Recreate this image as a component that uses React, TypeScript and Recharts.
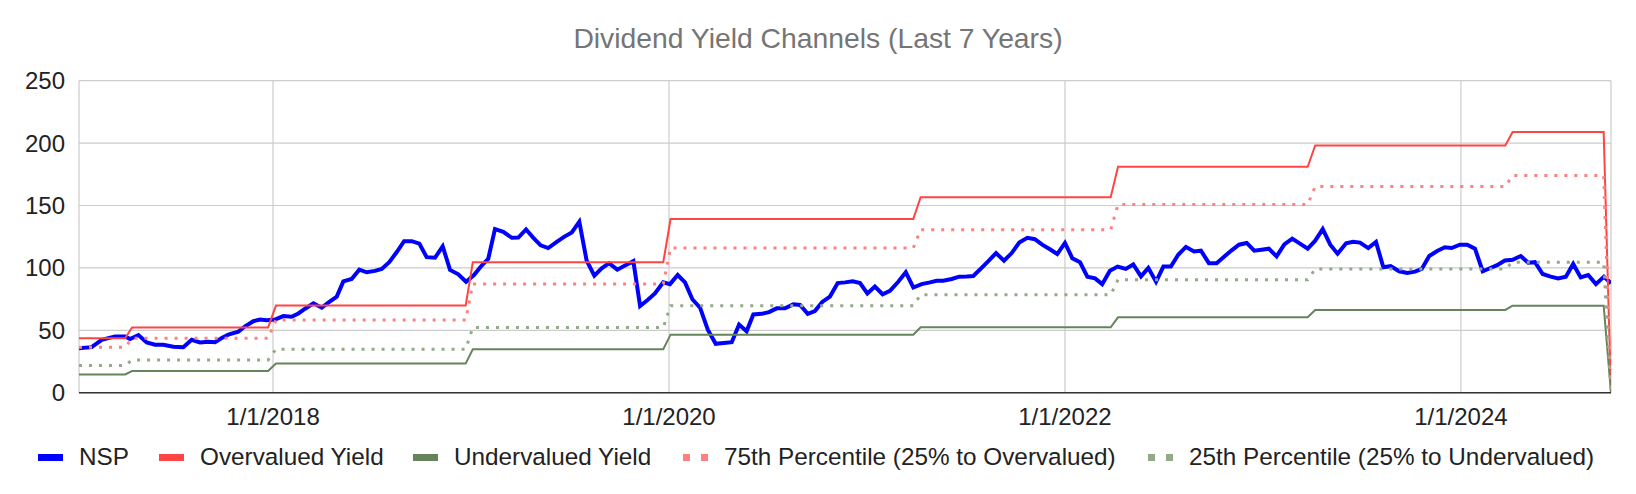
import { CartesianGrid, Line, LineChart, XAxis, YAxis } from 'recharts';

const W = 1636;
const H = 494;
const FONT = '"Liberation Sans", Arial, sans-serif';

// x values are decimal years
const xStart = 2017.02;
const xEnd = 2024.758;
const xTicks = [2018, 2020, 2022, 2024];
const yTicks = [0, 50, 100, 150, 200, 250];

const nspDates = [
  2017.02, 2017.084, 2017.135, 2017.202, 2017.253, 2017.278, 2017.32, 2017.362, 2017.404, 2017.446,
  2017.497, 2017.547, 2017.589, 2017.631, 2017.673, 2017.707, 2017.741, 2017.774, 2017.825, 2017.859,
  2017.901, 2017.934, 2017.968, 2018.01, 2018.052, 2018.094, 2018.128, 2018.162, 2018.204, 2018.246,
  2018.279, 2018.322, 2018.355, 2018.397, 2018.436, 2018.473, 2018.515, 2018.549, 2018.587, 2018.625,
  2018.662, 2018.701, 2018.739, 2018.776, 2018.818, 2018.857, 2018.894, 2018.936, 2018.975, 2019.015,
  2019.054, 2019.087, 2019.121, 2019.163, 2019.206, 2019.239, 2019.278, 2019.315, 2019.352, 2019.39,
  2019.433, 2019.47, 2019.509, 2019.547, 2019.584, 2019.623, 2019.66, 2019.697, 2019.739, 2019.778,
  2019.82, 2019.854, 2019.892, 2019.929, 2019.971, 2020.005, 2020.044, 2020.081, 2020.118, 2020.157,
  2020.196, 2020.236, 2020.317, 2020.354, 2020.392, 2020.426, 2020.468, 2020.505, 2020.544, 2020.586,
  2020.628, 2020.662, 2020.701, 2020.737, 2020.774, 2020.813, 2020.852, 2020.889, 2020.928, 2020.965,
  2021.002, 2021.04, 2021.079, 2021.116, 2021.158, 2021.196, 2021.234, 2021.276, 2021.318, 2021.352,
  2021.385, 2021.428, 2021.466, 2021.504, 2021.537, 2021.579, 2021.613, 2021.652, 2021.692, 2021.731,
  2021.769, 2021.81, 2021.848, 2021.885, 2021.924, 2021.961, 2022.0, 2022.037, 2022.076, 2022.113,
  2022.152, 2022.188, 2022.227, 2022.266, 2022.307, 2022.345, 2022.384, 2022.421, 2022.46, 2022.497,
  2022.535, 2022.572, 2022.611, 2022.652, 2022.687, 2022.727, 2022.766, 2022.805, 2022.842, 2022.879,
  2022.918, 2022.956, 2022.993, 2023.03, 2023.069, 2023.108, 2023.148, 2023.187, 2023.226, 2023.263,
  2023.302, 2023.34, 2023.377, 2023.42, 2023.455, 2023.49, 2023.532, 2023.571, 2023.608, 2023.645,
  2023.688, 2023.729, 2023.768, 2023.802, 2023.84, 2023.88, 2023.919, 2023.953, 2023.995, 2024.032,
  2024.071, 2024.11, 2024.146, 2024.183, 2024.222, 2024.261, 2024.302, 2024.34, 2024.374, 2024.413,
  2024.453, 2024.491, 2024.53, 2024.567, 2024.605, 2024.643, 2024.682, 2024.722, 2024.758,
];

const nspValues = [
  35.7, 36.5, 42.4, 45.1, 45.1, 43.0, 46.2, 40.3, 38.4, 38.4,
  36.8, 36.5, 42.4, 40.3, 40.8, 40.5, 43.8, 46.5, 48.9, 53.2,
  57.3, 58.6, 58.1, 58.6, 61.4, 60.8, 63.5, 67.3, 71.6, 68.1,
  72.2, 77.0, 89.2, 91.1, 98.6, 96.5, 97.6, 99.2, 104.6, 112.7,
  121.4, 121.4, 119.5, 108.6, 108.1, 117.3, 98.4, 94.9, 88.9, 94.3,
  101.9, 107.3, 131.1, 128.9, 124.1, 124.3, 130.8, 124.1, 118.1, 115.9,
  120.8, 124.9, 128.4, 137.0, 105.9, 93.8, 99.7, 103.8, 98.6, 101.9,
  105.4, 69.5, 74.3, 79.5, 88.4, 87.0, 94.3, 88.4, 74.9, 68.1,
  50.5, 39.2, 40.5, 54.6, 49.2, 62.7, 63.2, 64.6, 67.6, 67.6,
  70.8, 70.3, 63.2, 65.4, 72.7, 77.0, 87.8, 88.4, 89.2, 87.8,
  79.5, 85.1, 78.9, 81.6, 88.9, 96.5, 84.3, 87.0, 88.4, 89.7,
  89.7, 91.1, 93.0, 93.2, 93.5, 100.0, 105.4, 111.9, 105.7, 111.9,
  120.3, 124.1, 123.0, 118.6, 114.9, 111.1, 120.0, 107.8, 104.6, 93.0,
  91.6, 87.0, 97.8, 101.1, 99.2, 102.7, 93.2, 100.0, 88.9, 101.1,
  101.1, 110.5, 116.8, 113.2, 113.8, 103.8, 103.8, 109.2, 114.1, 118.6,
  120.0, 113.8, 114.6, 115.4, 109.2, 118.9, 123.5, 119.5, 115.4, 121.6,
  131.1, 118.6, 111.4, 119.8, 121.0, 120.3, 115.9, 120.8, 100.5, 101.4,
  97.3, 95.9, 97.0, 99.2, 109.5, 113.5, 116.5, 115.9, 118.6, 118.6,
  115.4, 97.3, 99.7, 102.2, 105.9, 106.5, 109.5, 104.1, 104.6, 95.1,
  93.0, 91.6, 93.0, 103.2, 92.4, 94.3, 87.0, 93.0, 87.6,
];

// step channels: last point on old level, first point on new level
const stepEnds = [2017.253, 2017.975, 2018.973, 2019.971, 2021.234, 2022.231, 2023.226, 2024.224, 2024.721];
const stepStarts = [2017.288, 2018.015, 2019.009, 2020.008, 2021.271, 2022.268, 2023.264, 2024.261, 2024.758];

const overvalued = [43.6, 52.3, 69.8, 104.5, 139.2, 156.7, 181.0, 198.1, 208.9, 0];
const undervalued = [14.6, 17.4, 23.3, 34.8, 46.5, 52.4, 60.4, 66.3, 69.7, 0];
const pct75 = [36.4, 43.6, 58.2, 87.0, 116.0, 130.6, 150.8, 165.2, 174.1, 0];
const pct25 = [21.8, 26.2, 34.9, 52.2, 69.7, 78.4, 90.5, 99.2, 104.5, 0];

function stepSeries(levels: number[]) {
  const pts = [{ x: xStart, y: levels[0] }];
  stepEnds.forEach((end, i) => {
    pts.push({ x: end, y: levels[i] });
    pts.push({ x: stepStarts[i], y: levels[i + 1] });
  });
  return pts;
}

const nspData = nspDates.map((x, i) => ({ x, y: nspValues[i] }));

const COL = {
  nsp: '#0000ff',
  over: '#ff4444',
  under: '#66845a',
  p75: '#ff8080',
  p25: '#93a98a',
};

const legendItems = [
  { name: 'NSP', color: COL.nsp, dotted: false, left: 38 },
  { name: 'Overvalued Yield', color: COL.over, dotted: false, left: 159 },
  { name: 'Undervalued Yield', color: COL.under, dotted: false, left: 413 },
  { name: '75th Percentile (25% to Overvalued)', color: COL.p75, dotted: true, left: 683 },
  { name: '25th Percentile (25% to Undervalued)', color: COL.p25, dotted: true, left: 1148 },
];

function ChartLegend() {
  return (
    <>
      {legendItems.map((it) => (
        <div
          key={it.name}
          style={{ position: 'absolute', left: it.left, top: 443, height: 28, display: 'flex', alignItems: 'center' }}
        >
          {it.dotted ? (
            <div style={{ width: 25, height: 7, position: 'relative' }}>
              <div style={{ position: 'absolute', left: 0, top: 0, width: 7, height: 7, background: it.color }} />
              <div style={{ position: 'absolute', left: 18, top: 0, width: 7, height: 7, background: it.color }} />
            </div>
          ) : (
            <div style={{ width: 25, height: 7, background: it.color }} />
          )}
          <span style={{ marginLeft: 16, fontSize: 24.3, color: '#222', fontFamily: FONT, whiteSpace: 'nowrap' }}>
            {it.name}
          </span>
        </div>
      ))}
    </>
  );
}

export default function App() {
  return (
    <div style={{ position: 'relative', width: W, height: H, background: '#fff', fontFamily: FONT }}>
      <style>{'body{margin:0}'}</style>
      <div
        style={{
          position: 'absolute',
          top: 24,
          left: 0,
          width: W,
          textAlign: 'center',
          fontSize: 28.3,
          lineHeight: '28px',
          color: '#757575',
        }}
      >
        Dividend Yield Channels (Last 7 Years)
      </div>
      <LineChart width={W} height={H} margin={{ top: 80.7, right: 25, bottom: 71.3, left: 0 }}>
        <CartesianGrid stroke='#cccccc' strokeWidth={1.2} />
        <XAxis
          type='number'
          dataKey='x'
          domain={[xStart, xEnd]}
          ticks={xTicks}
          allowDataOverflow
          tickFormatter={(v: number) => `1/1/${v}`}
          tick={{ fontSize: 24, fill: '#222', fontFamily: FONT }}
          tickLine={false}
          tickSize={0}
          tickMargin={15}
          height={30}
          axisLine={{ stroke: '#333', strokeWidth: 1.5 }}
        />
        <YAxis
          type='number'
          domain={[0, 250]}
          ticks={yTicks}
          tick={{ fontSize: 24, fill: '#222', fontFamily: FONT }}
          tickLine={false}
          tickSize={0}
          tickMargin={14}
          axisLine={false}
          width={79}
        />
        <Line data={nspData} dataKey='y' stroke={COL.nsp} strokeWidth={4} dot={false} isAnimationActive={false} />
        <Line data={stepSeries(overvalued)} dataKey='y' stroke={COL.over} strokeWidth={2} dot={false} isAnimationActive={false} />
        <Line data={stepSeries(undervalued)} dataKey='y' stroke={COL.under} strokeWidth={2} dot={false} isAnimationActive={false} />
        <Line
          data={stepSeries(pct75)}
          dataKey='y'
          stroke={COL.p75}
          strokeWidth={3}
          strokeDasharray='3 7'
          dot={false}
          isAnimationActive={false}
        />
        <Line
          data={stepSeries(pct25)}
          dataKey='y'
          stroke={COL.p25}
          strokeWidth={3}
          strokeDasharray='3 7'
          dot={false}
          isAnimationActive={false}
        />
      </LineChart>
      <ChartLegend />
    </div>
  );
}
